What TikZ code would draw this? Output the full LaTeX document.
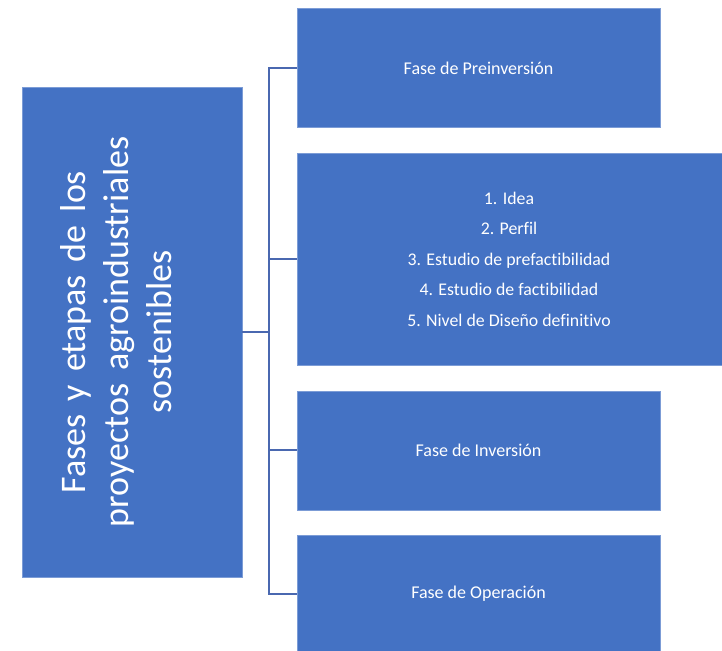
\documentclass[tikz,border=0pt]{standalone}
\usepackage{fontspec}
\setmainfont[Ligatures={NoCommon}]{Carlito}
\newfontfamily\leftfont[Ligatures={NoCommon},WordSpace=1.6]{Carlito}
\definecolor{obl}{HTML}{4472C4}
\definecolor{lnc}{HTML}{4A68B0}
\begin{document}
\begin{tikzpicture}[x=1pt,y=-1pt,
  boxs/.style={fill=obl,draw=obl!70!white,line width=0.6pt,text=white,inner sep=0pt},
  conn/.style={draw=lnc,line width=1.6pt}]
\useasboundingbox (0,0) rectangle (722,650);
% left box
\filldraw[boxs] (22,87) rectangle (242,577);
\node[text=white,rotate=90,align=center,font=\leftfont\fontsize{36}{43}\selectfont] (main) at (116,332) {Fases y etapas de los\\proyectos agroindustriales\\sostenibles};
\coordinate (mainR) at (242,332);
% right boxes
\filldraw[boxs] (297,8) rectangle (660,127);
\node[text=white,font=\fontsize{18}{21}\selectfont] (b1) at (478.5,68) {Fase de Preinversión};
\filldraw[boxs] (297,153) rectangle (723,365);
\node[text=white,align=center,font=\fontsize{17.8}{30.5}\selectfont] (b2) at (509,259) {1. Idea\\2. Perfil\\3. Estudio de prefactibilidad\\4. Estudio de factibilidad\\5. Nivel de Diseño definitivo};
\filldraw[boxs] (297,391) rectangle (660,510);
\node[text=white,font=\fontsize{18}{21}\selectfont] (b3) at (478.5,450) {Fase de Inversión};
\filldraw[boxs] (297,535) rectangle (660,651);
\node[text=white,font=\fontsize{18}{21}\selectfont] (b4) at (478.5,594) {Fase de Operación};
% connectors
\coordinate (j) at (269,332);
\coordinate (e1) at (297,68);
\coordinate (e2) at (297,259);
\coordinate (e3) at (297,450);
\coordinate (e4) at (297,594);
\draw[conn] (mainR) -- (j);
\draw[conn] (j) |- (e1);
\draw[conn] (j) |- (e2);
\draw[conn] (j) |- (e3);
\draw[conn] (j) |- (e4);
\end{tikzpicture}
\end{document}
